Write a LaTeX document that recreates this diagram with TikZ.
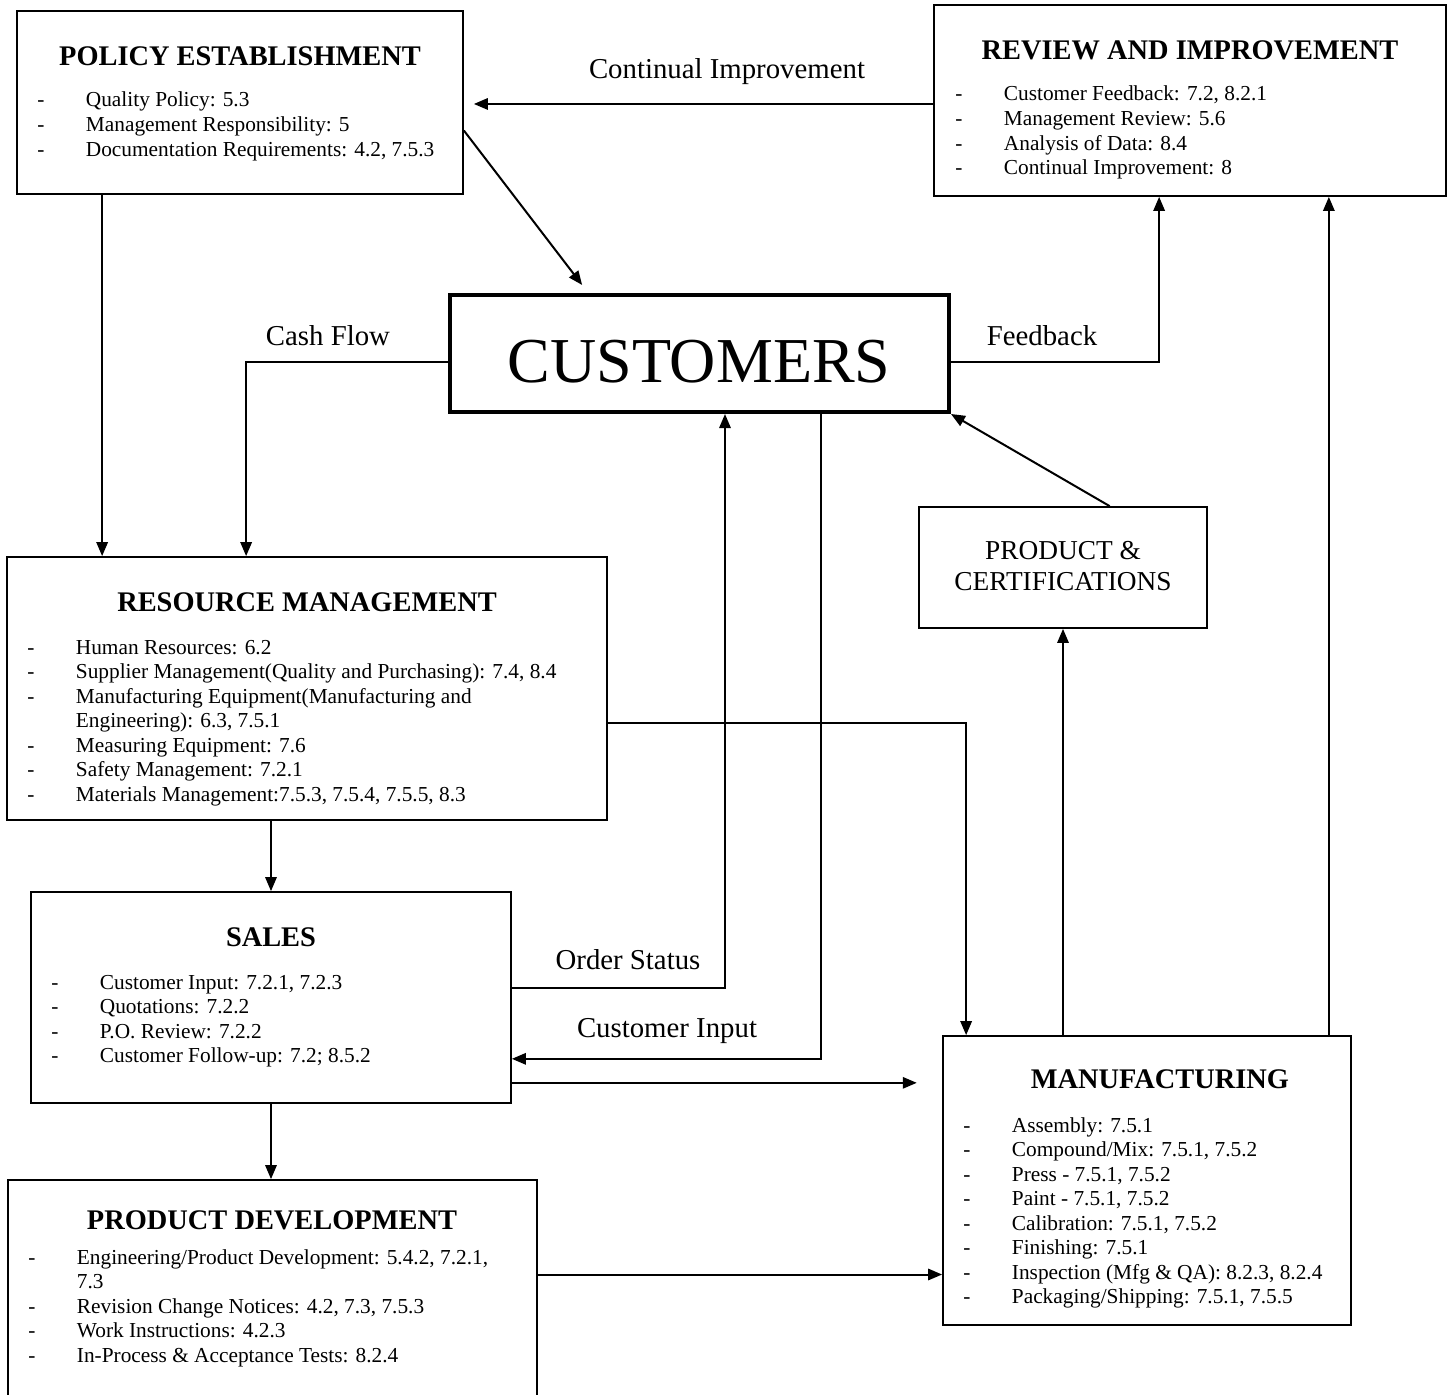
\documentclass[tikz,border=0pt]{standalone}
\usepackage{fontspec}
\setmainfont{Liberation Serif}
\usetikzlibrary{arrows.meta, positioning, fit}

\newcommand{\itemlist}[1]{\begin{tabular}[t]{@{}p{36.5pt}@{}l@{}}#1\end{tabular}}

\begin{document}
\begin{tikzpicture}[
    x=0.75pt, y=-0.75pt,
    >={Triangle[length=10.5pt, width=8.5pt]},
    box/.style  = {rectangle, draw, line width=1.3pt, inner sep=0pt},
    cust/.style = {rectangle, draw, line width=3pt, inner sep=0pt},
    big/.style  = {font=\fontsize{48}{56}\selectfont, inner sep=0pt},
    ttl/.style  = {font=\fontsize{21.3}{25}\selectfont\bfseries, inner sep=0pt},
    lst/.style  = {font=\fontsize{16}{18.4}\selectfont, inner sep=0pt, anchor=base west},
    prd/.style  = {font=\fontsize{20.5}{23.5}\selectfont, align=center, inner sep=0pt},
    arr/.style  = {->, line width=1.5pt},
    lbl/.style  = {font=\fontsize{21.6}{25}\selectfont, inner sep=0pt},
]
\useasboundingbox (0,0) rectangle (1454,1395);

% ---------------- top row ----------------
\node[box, fit={(17,11) (463,194)}] (policy) {};
\node[ttl] (policy-t) at (240,56) {POLICY ESTABLISHMENT};
\node[lst] (policy-l) at (37,107) {\itemlist{
  - & Quality Policy: 5.3\\
  - & Management Responsibility: 5\\
  - & Documentation Requirements: 4.2, 7.5.3}};

\node[box, fit={(934,5) (1446,196)}] (review) {};
\node[ttl] (review-t) at (1190,50) {REVIEW AND IMPROVEMENT};
\node[lst] (review-l) at (955,101) {\itemlist{
  - & Customer Feedback: 7.2, 8.2.1\\
  - & Management Review: 5.6\\
  - & Analysis of Data: 8.4\\
  - & Continual Improvement: 8}};

\node[cust, fit={(450,295) (949,412)}] (customers) {};
\node[big] (customers-t) at (699,362) {CUSTOMERS};

\node[box, fit={(919,507) (1207,628)}] (prodcert) {};
\node[prd] (prodcert-t) at (1063,566) {PRODUCT \&\\CERTIFICATIONS};

% ---------------- left column ----------------
\node[box, fit={(7,557) (607,820)}] (resource) {};
\node[ttl] (resource-t) at (307,602) {RESOURCE MANAGEMENT};
\node[lst] (resource-l) at (27,654) {\itemlist{
  - & Human Resources: 6.2\\
  - & Supplier Management(Quality and Purchasing): 7.4, 8.4\\
  - & Manufacturing Equipment(Manufacturing and\\
    & Engineering): 6.3, 7.5.1\\
  - & Measuring Equipment: 7.6\\
  - & Safety Management: 7.2.1\\
  - & Materials Management:7.5.3, 7.5.4, 7.5.5, 8.3}};

\node[box, fit={(31,892) (511,1103)}] (sales) {};
\node[ttl] (sales-t) at (271,937) {SALES};
\node[lst] (sales-l) at (51,989) {\itemlist{
  - & Customer Input: 7.2.1, 7.2.3\\
  - & Quotations: 7.2.2\\
  - & P.O. Review: 7.2.2\\
  - & Customer Follow-up: 7.2; 8.5.2}};

\node[box, fit={(8,1180) (537,1420)}] (pd) {};
\node[ttl] (pd-t) at (272,1220) {PRODUCT DEVELOPMENT};
\node[lst] (pd-l) at (28,1264) {\itemlist{
  - & Engineering/Product Development: 5.4.2, 7.2.1,\\
    & 7.3\\
  - & Revision Change Notices: 4.2, 7.3, 7.5.3\\
  - & Work Instructions: 4.2.3\\
  - & In-Process \& Acceptance Tests: 8.2.4}};

% ---------------- manufacturing ----------------
\node[box, fit={(943,1036) (1351,1325)}] (mfg) {};
\node[ttl] (mfg-t) at (1160,1079) {MANUFACTURING};
\node[lst] (mfg-l) at (963,1132) {\itemlist{
  - & Assembly: 7.5.1\\
  - & Compound/Mix: 7.5.1, 7.5.2\\
  - & Press - 7.5.1, 7.5.2\\
  - & Paint - 7.5.1, 7.5.2\\
  - & Calibration: 7.5.1, 7.5.2\\
  - & Finishing: 7.5.1\\
  - & Inspection (Mfg \& QA): 8.2.3, 8.2.4\\
  - & Packaging/Shipping: 7.5.1, 7.5.5}};

% ---------------- connectors ----------------
\coordinate (rv-in) at ([xshift=-88.5pt]review.south east);
\coordinate (pd-out) at ([yshift=-70.5pt]mfg.west);

\draw[arr, shorten >=7.5pt] ([yshift=-2.6pt]review.west) -- ([yshift=-2.6pt]review.west -| policy.east);
\node[lbl] (ci-lbl) at (727,72) {Continual Improvement};
\draw[arr] ([yshift=-21pt]policy.east) -- ([xshift=-88pt, yshift=6pt]customers.north);
\draw[arr] ([xshift=64.5pt]policy.south west) -- ([xshift=64.5pt]policy.south west |- resource.north);

\draw[arr] ([yshift=-6pt]customers.west) -| ([xshift=180pt]resource.north west);
\node[lbl] (cash-lbl) at (328,336) {Cash Flow};
\draw[arr] ([yshift=-6pt]customers.east) -| ([xshift=169.5pt]review.south west);
\node[lbl] (fb-lbl) at (1042,336) {Feedback};

\draw[arr] ([xshift=35pt]prodcert.north) -- (customers.south east);
\draw[arr] (mfg.north -| prodcert.south) -- (prodcert.south);
\draw[arr] (mfg.north -| rv-in) -- (rv-in);
\draw[arr] ([yshift=-26pt]resource.east) -| ([xshift=18pt]mfg.north west);

\draw[arr] (sales.north |- resource.south) -- (sales.north);
\draw[arr] (sales.south) -- (sales.south |- pd.north);

\draw[arr] ([yshift=7pt]sales.east) -| ([xshift=207.75pt]customers.south west);
\node[lbl] (os-lbl) at (628,960) {Order Status};
\draw[arr] ([xshift=279.75pt]customers.south west) |- ([yshift=-46pt]sales.east);
\node[lbl] (cin-lbl) at (667,1031) {Customer Input};
\draw[arr, shorten >=19pt] ([yshift=-64pt]sales.east) -- ([yshift=-64pt]sales.east -| mfg.west);
\draw[arr] (pd.east |- pd-out) -- (pd-out);

\end{tikzpicture}
\end{document}
